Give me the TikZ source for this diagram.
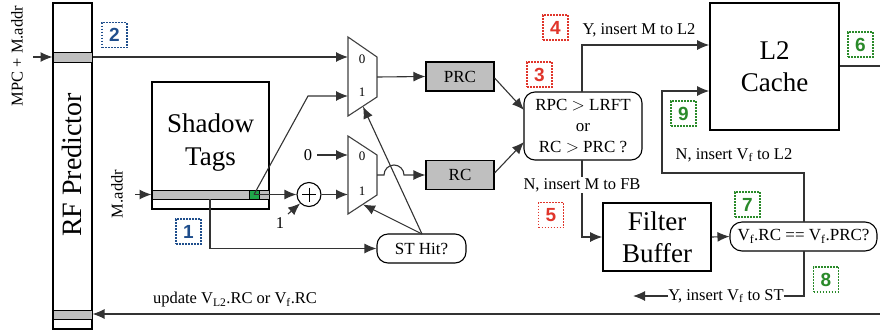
\documentclass[tikz,border=0pt]{standalone}
\usepackage{fontspec}
\setmainfont{Liberation Serif}
\newfontfamily\numfont{Liberation Sans}
\usetikzlibrary{arrows.meta,calc}
\definecolor{nblue}{HTML}{1F4E8C}
\definecolor{nred}{HTML}{E0352B}
\definecolor{ngreen}{HTML}{2A8A2A}
\definecolor{tagsgreen}{HTML}{1FA64A}
\begin{document}
\begin{tikzpicture}[x=1pt,y=-1pt,
  bigbox/.style={draw, line width=1.6pt, inner sep=0pt, align=center, font=\fontsize{27}{32}\selectfont},
  band/.style={draw, line width=1pt, fill=black!25, inner sep=0pt},
  regbox/.style={draw, line width=1.1pt, fill=black!25, inner sep=0pt, minimum width=68pt, minimum height=29pt, font=\fontsize{17}{17}\selectfont},
  decbox/.style={draw, line width=1.1pt, rounded corners=11pt, inner sep=0pt, align=center, font=\fontsize{17}{21}\selectfont},
  conn/.style={line width=1.1pt, draw=black!80},
  arr/.style={conn, -{Latex[length=12pt,width=10pt]}},
  lbl/.style={inner sep=1pt, font=\fontsize{16.5}{18}\selectfont},
  smlbl/.style={inner sep=0pt, font=\fontsize{13}{13}\selectfont},
  numbox/.style={draw=#1, text=#1, dash pattern=on 1.6pt off 1.4pt, line width=1.3pt, minimum size=25pt, inner sep=0pt, font=\numfont\bfseries\fontsize{19}{19}\selectfont},
  muxshape/.style={draw=black!75, line width=1.1pt}
]
\useasboundingbox (0,0) rectangle (880,333);

% RF predictor
\node[bigbox, minimum width=39pt, minimum height=326pt] (rf) at (72.5,166) {};
\node[band, minimum width=39pt, minimum height=10pt] (rfb1) at (72.5,57) {};
\node[band, minimum width=39pt, minimum height=9pt] (rfb2) at (72.5,314.5) {};
\node[rotate=90, font=\fontsize{28}{28}\selectfont, inner sep=0pt] (rftext) at (72,165) {RF Predictor};
\node[rotate=90, lbl] (mpc) at (17,56) {MPC + M.addr};
\coordinate (mpcin) at (33,57);
\draw[arr] (mpcin) -- (rfb1.west);

% Shadow tags
\node[bigbox, minimum width=117pt, minimum height=127pt] (st) at (210.5,145.5) {};
\node[font=\fontsize{27}{33}\selectfont, align=center, inner sep=0pt] (sttext) at (210.5,143) {Shadow\\Tags};
\node[band, minimum width=117pt, minimum height=9pt] (stb) at (210.5,194.5) {};
\node[draw, line width=0.8pt, fill=tagsgreen, minimum width=10pt, minimum height=9pt, inner sep=0pt] (green) at (254,194.5) {};
\node[rotate=90, lbl] (maddr) at (117,194) {M.addr};
\coordinate (maddrin) at (135,194.5);
\draw[arr] (maddrin) -- (stb.west);

% muxes
\coordinate (m1a) at (348,37); \coordinate (m1b) at (377,57);
\coordinate (m1c) at (377,97); \coordinate (m1d) at (348,116);
\draw[muxshape] (m1a) -- (m1b) -- (m1c) -- (m1d) -- cycle;
\coordinate (m1in0) at (348,57); \coordinate (m1in1) at (348,96);
\coordinate (m1out) at (377,77); \coordinate (m1sel) at (363,106.5);
\node[smlbl] (m1l0) at (362,59) {0};
\node[smlbl] (m1l1) at (362,92) {1};

\coordinate (m2a) at (348,136); \coordinate (m2b) at (377,155);
\coordinate (m2c) at (377,195); \coordinate (m2d) at (348,214);
\draw[muxshape] (m2a) -- (m2b) -- (m2c) -- (m2d) -- cycle;
\coordinate (m2in0) at (348,155); \coordinate (m2in1) at (348,194.5);
\coordinate (m2out) at (377,175); \coordinate (m2sel) at (363,204.5);
\node[smlbl] (m2l0) at (362,156) {0};
\node[smlbl] (m2l1) at (362,191) {1};

% adder
\node[draw, circle, line width=1.1pt, minimum size=24pt, inner sep=0pt] (add) at (309,194.5) {};
\draw[line width=0.8pt] ($(add.center)+(-7,0)$) -- ($(add.center)+(7,0)$);
\draw[line width=0.8pt] ($(add.center)+(0,-7)$) -- ($(add.center)+(0,7)$);
\node[lbl] (one) at (280,223) {1};
\node[lbl] (zero) at (308,155) {0};
\coordinate (oneA) at (288,214);

% registers
\node[regbox] (prc) at (460,76.5) {PRC};
\node[regbox] (rc) at (460,175) {RC};

% ST hit
\node[decbox, minimum width=89pt, minimum height=29pt] (sthit) at (421.5,248.5) {ST Hit?};

% decision
\node[decbox, minimum width=118pt, minimum height=68pt] (dec) at (583,126) {RPC $>$ LRFT\\or\\RC $>$ PRC ?};

% L2 cache
\node[bigbox, minimum width=129pt, minimum height=127pt] (l2) at (774.5,66.5) {L2\\Cache};

% filter buffer
\node[bigbox, minimum width=108pt, minimum height=68pt] (fb) at (657,237) {Filter\\Buffer};

% Vf decision
\node[decbox, minimum width=147pt, minimum height=29pt, rounded corners=12pt] (vdec) at (803.5,236.5) {V\textsubscript{f}.RC == V\textsubscript{f}.PRC?};

% connectors
\draw[arr] (rfb1.east) -- (m1in0);
\draw[arr] (m1out) -- (prc.west);
\draw[arr] (green.center) -- (308,96) -- (m1in1);
\draw[arr] (green.center) -- (add.west);
\draw[arr] (oneA) -- (add.south west);
\draw[arr] (add.east) -- (m2in1);
\draw[arr] (zero.east) ++(4,0) -- (m2in0);
\draw[arr] (m2out) -- (384,175) arc[start angle=180, end angle=0, radius=10pt] -- (rc.west);
\draw[arr] (210,199) -- (210,248.5) -- (sthit.west);
\coordinate (sttop) at (422,234);
\draw[arr] (sttop) -- (m1sel);
\draw[arr] (sttop) -- (m2sel);
\draw[arr] (prc.east) ++(0,1.5) -- (524,110);
\draw[arr] (rc.east) ++(0,-2) -- (524,142);

\coordinate (dectop) at (582,92);
\coordinate (decbot) at (582,160);
\draw[arr] (dectop) -- (582,45) -- (l2.west |- 0,45);
\node[lbl] (ylab) at (639,30) {Y, insert M to L2};
\draw[arr] (decbot) -- (582,237) -- (fb.west);
\node[lbl, fill=white] (nlab) at (582,185) {N, insert M to FB};

\draw[arr] (fb.east) -- (vdec.west);
\coordinate (vtop) at (804,222);
\coordinate (vbot) at (804,251);
\draw[arr] (vtop) -- (804,173) -- (662,173) -- (662,91) -- (l2.west |- 0,91);
\node[lbl] (nvl2) at (734,155) {N, insert V\textsubscript{f} to L2};

\node[lbl, inner sep=0pt] (yst) at (726,296) {Y, insert V\textsubscript{f} to ST};
\draw[conn] (vbot) -- (804,296) -- (yst.east);
\coordinate (ystend) at (633,296);
\draw[arr] (yst.west) -- (ystend);

\coordinate (l2out) at (880,66);
\draw[conn] (l2.east |- 0,66) -- (l2out);

\coordinate (updin) at (880,314);
\draw[arr] (updin) -- (rfb2.east |- 0,314);
\node[lbl] (upd) at (235,300) {update V\textsubscript{L2}.RC or V\textsubscript{f}.RC};

% number boxes
\node[numbox=nblue] (n2) at (114.5,35) {2};
\node[numbox=nblue] (n1) at (188.5,231.5) {1};
\node[numbox=nred] (n3) at (539.5,74.5) {3};
\node[numbox=nred] (n4) at (555.5,27.5) {4};
\node[numbox=nred] (n5) at (551,215) {5};
\node[numbox=ngreen] (n6) at (860.5,44.5) {6};
\node[numbox=ngreen] (n9) at (683.5,113.5) {9};
\node[numbox=ngreen] (n7) at (747.5,204.5) {7};
\node[numbox=ngreen] (n8) at (826,279.5) {8};
\end{tikzpicture}
\end{document}
